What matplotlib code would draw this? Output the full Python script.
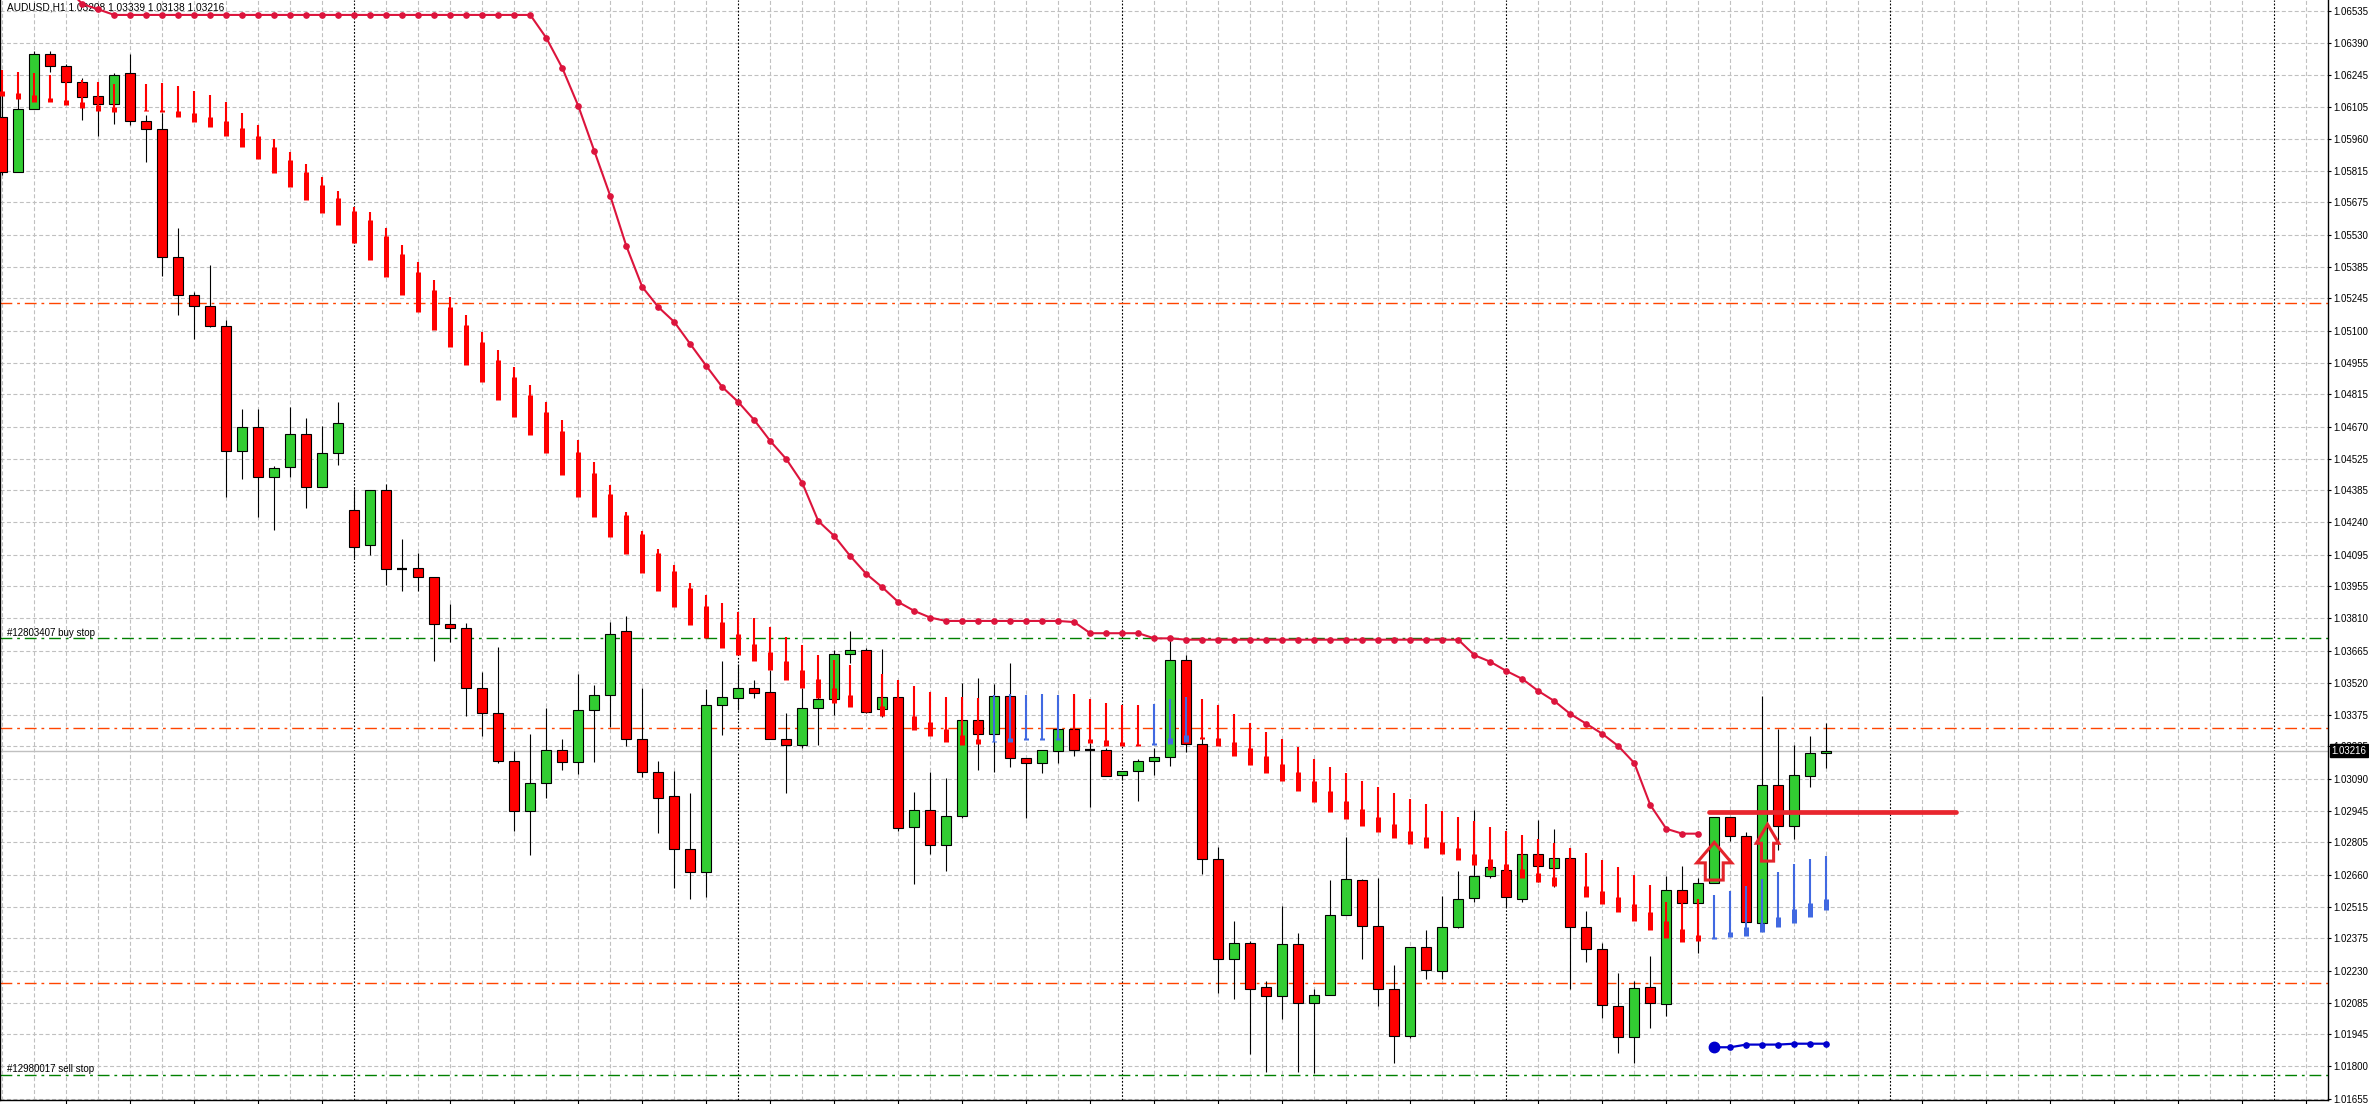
import numpy as np
import matplotlib.pyplot as plt
from matplotlib.patches import Polygon

plt.rcParams['font.family'] = ['Liberation Sans', 'DejaVu Sans']

title = "AUDUSD,H1 1.03208 1.03339 1.03138 1.03216"

# hourly candles (bar 0 = leftmost)
opens = [1.06058, 1.05813, 1.06093, 1.06340, 1.06286, 1.06214, 1.06151, 1.06115, 1.06254, 1.06039,
         1.06003, 1.05429, 1.05259, 1.05209, 1.05122, 1.04559, 1.04667, 1.04442, 1.04487, 1.04635,
         1.04398, 1.04550, 1.04294, 1.04137, 1.04384, 1.04032, 1.04034, 1.03994, 1.03783, 1.03765,
         1.03496, 1.03384, 1.03169, 1.02944, 1.03070, 1.03218, 1.03164, 1.03397, 1.03465, 1.03752,
         1.03267, 1.03119, 1.03012, 1.02774, 1.02671, 1.03420, 1.03451, 1.03496, 1.03478, 1.03267,
         1.03240, 1.03406, 1.03447, 1.03649, 1.03666, 1.03402, 1.03456, 1.02873, 1.02949, 1.02792,
         1.02922, 1.03353, 1.03290, 1.03460, 1.03182, 1.03160, 1.03213, 1.03312, 1.03218, 1.03218,
         1.03106, 1.03124, 1.03169, 1.03187, 1.03622, 1.03245, 1.02729, 1.02281, 1.02352, 1.02155,
         1.02115, 1.02348, 1.02083, 1.02119, 1.02478, 1.02635, 1.02429, 1.02146, 1.01937, 1.02334,
         1.02228, 1.02424, 1.02554, 1.02653, 1.02680, 1.02550, 1.02752, 1.02691, 1.02734, 1.02424,
         1.02325, 1.02070, 1.01931, 1.02155, 1.02079, 1.02590, 1.02532, 1.02621, 1.02917, 1.02832,
         1.02442, 1.03061, 1.02877, 1.03101, 1.03208]
highs = [1.06157, 1.06149, 1.06354, 1.06354, 1.06296, 1.06232, 1.06151, 1.06254, 1.06341, 1.06066,
         1.06078, 1.05559, 1.05272, 1.05393, 1.05148, 1.04749, 1.04749, 1.04493, 1.04759, 1.04708,
         1.04674, 1.04780, 1.04389, 1.04384, 1.04412, 1.04166, 1.04101, 1.03994, 1.03874, 1.03789,
         1.03570, 1.03681, 1.03215, 1.03291, 1.03408, 1.03269, 1.03560, 1.03511, 1.03793, 1.03820,
         1.03499, 1.03170, 1.03125, 1.03026, 1.03492, 1.03618, 1.03605, 1.03533, 1.03578, 1.03384,
         1.03496, 1.03539, 1.03668, 1.03753, 1.03678, 1.03672, 1.03456, 1.03031, 1.03121, 1.03092,
         1.03518, 1.03541, 1.03514, 1.03608, 1.03182, 1.03218, 1.03312, 1.03469, 1.03249, 1.03227,
         1.03124, 1.03178, 1.03227, 1.03717, 1.03645, 1.03272, 1.02786, 1.02452, 1.02363, 1.02185,
         1.02521, 1.02400, 1.02149, 1.02636, 1.02828, 1.02639, 1.02645, 1.02255, 1.02334, 1.02412,
         1.02566, 1.02678, 1.02949, 1.02693, 1.02680, 1.02752, 1.02905, 1.02865, 1.02778, 1.02497,
         1.02352, 1.02219, 1.02182, 1.02295, 1.02654, 1.02698, 1.02644, 1.02917, 1.02917, 1.02850,
         1.03461, 1.03313, 1.03242, 1.03282, 1.03339]
lows = [1.05798, 1.05812, 1.06093, 1.06261, 1.06214, 1.06045, 1.05973, 1.06027, 1.06024, 1.05856,
        1.05345, 1.05170, 1.05063, 1.05118, 1.04355, 1.04436, 1.04266, 1.04206, 1.04445, 1.04306,
        1.04398, 1.04499, 1.04079, 1.04094, 1.03961, 1.03934, 1.03934, 1.03620, 1.03702, 1.03373,
        1.03283, 1.03162, 1.02857, 1.02750, 1.03005, 1.03130, 1.03110, 1.03167, 1.03324, 1.03239,
        1.03100, 1.02848, 1.02599, 1.02552, 1.02559, 1.03288, 1.03399, 1.03451, 1.03267, 1.03025,
        1.03227, 1.03243, 1.03375, 1.03608, 1.03384, 1.03369, 1.02857, 1.02620, 1.02754, 1.02678,
        1.02913, 1.03130, 1.03121, 1.03144, 1.02916, 1.03115, 1.03160, 1.03194, 1.02965, 1.03101,
        1.03083, 1.02992, 1.03105, 1.03149, 1.03212, 1.02663, 1.02131, 1.02101, 1.01856, 1.01776,
        1.02014, 1.01776, 1.01769, 1.02119, 1.02478, 1.02283, 1.02072, 1.01814, 1.01926, 1.02194,
        1.02194, 1.02420, 1.02536, 1.02644, 1.02517, 1.02539, 1.02629, 1.02606, 1.02149, 1.02270,
        1.02019, 1.01859, 1.01817, 1.01974, 1.02028, 1.02532, 1.02310, 1.02621, 1.02810, 1.02446,
        1.02442, 1.02772, 1.02820, 1.03055, 1.03138]
closes = [1.05812, 1.06093, 1.06340, 1.06286, 1.06214, 1.06147, 1.06115, 1.06245, 1.06039, 1.06003,
          1.05429, 1.05259, 1.05209, 1.05122, 1.04559, 1.04667, 1.04442, 1.04483, 1.04635, 1.04398,
          1.04550, 1.04685, 1.04128, 1.04384, 1.04030, 1.04032, 1.03994, 1.03783, 1.03765, 1.03496,
          1.03384, 1.03169, 1.02944, 1.03070, 1.03218, 1.03164, 1.03397, 1.03465, 1.03738, 1.03267,
          1.03119, 1.03003, 1.02774, 1.02671, 1.03420, 1.03456, 1.03496, 1.03474, 1.03267, 1.03240,
          1.03406, 1.03447, 1.03649, 1.03666, 1.03388, 1.03456, 1.02868, 1.02949, 1.02792, 1.02922,
          1.03353, 1.03290, 1.03460, 1.03182, 1.03160, 1.03218, 1.03312, 1.03218, 1.03218, 1.03101,
          1.03124, 1.03169, 1.03187, 1.03622, 1.03245, 1.02729, 1.02281, 1.02352, 1.02146, 1.02115,
          1.02348, 1.02083, 1.02119, 1.02478, 1.02639, 1.02429, 1.02146, 1.01937, 1.02334, 1.02233,
          1.02424, 1.02550, 1.02653, 1.02693, 1.02559, 1.02752, 1.02698, 1.02734, 1.02424, 1.02325,
          1.02074, 1.01931, 1.02151, 1.02083, 1.02590, 1.02532, 1.02621, 1.02917, 1.02832, 1.02446,
          1.03061, 1.02877, 1.03106, 1.03204, 1.03216]

# histogram-style indicator: thin line top, thick part top, bottom
osc_top = [1.06269, 1.06259, 1.06254, 1.06247, 1.06224, 1.06224, 1.06214, 1.06206, 1.06206, 1.06206,
           1.06212, 1.06197, 1.06175, 1.06157, 1.06126, 1.06078, 1.06022, 1.05961, 1.05901, 1.05849,
           1.05791, 1.05728, 1.05656, 1.05632, 1.05560, 1.05484, 1.05408, 1.05327, 1.05251, 1.05170,
           1.05094, 1.05013, 1.04937, 1.04856, 1.04780, 1.04699, 1.04610, 1.04511, 1.04408, 1.04288,
           1.04202, 1.04121, 1.04049, 1.03967, 1.03914, 1.03877, 1.03838, 1.03810, 1.03770, 1.03725,
           1.03689, 1.03644, 1.03623, 1.03599, 1.03578, 1.03559, 1.03533, 1.03506, 1.03478, 1.03457,
           1.03457, 1.03453, 1.03465, 1.03469, 1.03466, 1.03470, 1.03466, 1.03470, 1.03448, 1.03430,
           1.03421, 1.03421, 1.03426, 1.03448, 1.03457, 1.03448, 1.03421, 1.03381, 1.03340, 1.03300,
           1.03269, 1.03233, 1.03179, 1.03143, 1.03116, 1.03080, 1.03053, 1.03026, 1.02999, 1.02977,
           1.02946, 1.02919, 1.02901, 1.02874, 1.02856, 1.02838, 1.02820, 1.02802, 1.02778, 1.02757,
           1.02726, 1.02695, 1.02659, 1.02614, 1.02536, 1.02532, 1.02550, 1.02568, 1.02586, 1.02608,
           1.02639, 1.02671, 1.02707, 1.02729, 1.02743]
osc_mid = [1.06175, 1.06165, 1.06157, 1.06143, 1.06134, 1.06124, 1.06112, 1.06104, 1.06099, 1.06090,
           1.06090, 1.06087, 1.06078, 1.06060, 1.06040, 1.06009, 1.05973, 1.05925, 1.05865, 1.05812,
           1.05753, 1.05695, 1.05638, 1.05596, 1.05525, 1.05444, 1.05363, 1.05282, 1.05206, 1.05125,
           1.05049, 1.04968, 1.04892, 1.04811, 1.04735, 1.04650, 1.04556, 1.04462, 1.04367, 1.04273,
           1.04188, 1.04101, 1.04022, 1.03947, 1.03865, 1.03793, 1.03740, 1.03695, 1.03659, 1.03618,
           1.03578, 1.03538, 1.03497, 1.03465, 1.03444, 1.03417, 1.03394, 1.03372, 1.03345, 1.03313,
           1.03287, 1.03269, 1.03260, 1.03273, 1.03273, 1.03273, 1.03273, 1.03269, 1.03269, 1.03264,
           1.03255, 1.03246, 1.03251, 1.03275, 1.03287, 1.03276, 1.03275, 1.03255, 1.03228, 1.03194,
           1.03158, 1.03121, 1.03080, 1.03035, 1.02991, 1.02955, 1.02919, 1.02887, 1.02856, 1.02829,
           1.02807, 1.02780, 1.02752, 1.02730, 1.02708, 1.02684, 1.02666, 1.02648, 1.02627, 1.02608,
           1.02586, 1.02559, 1.02527, 1.02491, 1.02451, 1.02415, 1.02388, 1.02379, 1.02402, 1.02424,
           1.02442, 1.02469, 1.02505, 1.02532, 1.02550]
osc_bot = [1.06152, 1.06139, 1.06127, 1.06124, 1.06112, 1.06097, 1.06087, 1.06079, 1.06085, 1.06084,
           1.06081, 1.06060, 1.06037, 1.06012, 1.05974, 1.05925, 1.05869, 1.05806, 1.05746, 1.05686,
           1.05629, 1.05573, 1.05495, 1.05417, 1.05341, 1.05260, 1.05184, 1.05103, 1.05027, 1.04946,
           1.04870, 1.04789, 1.04713, 1.04632, 1.04553, 1.04453, 1.04355, 1.04263, 1.04176, 1.04097,
           1.04012, 1.03934, 1.03859, 1.03779, 1.03720, 1.03678, 1.03644, 1.03617, 1.03577, 1.03532,
           1.03496, 1.03451, 1.03429, 1.03411, 1.03390, 1.03372, 1.03340, 1.03309, 1.03282, 1.03254,
           1.03242, 1.03246, 1.03254, 1.03254, 1.03264, 1.03264, 1.03264, 1.03255, 1.03251, 1.03239,
           1.03239, 1.03237, 1.03242, 1.03246, 1.03254, 1.03270, 1.03237, 1.03192, 1.03152, 1.03115,
           1.03079, 1.03034, 1.02985, 1.02940, 1.02910, 1.02877, 1.02850, 1.02823, 1.02796, 1.02778,
           1.02752, 1.02725, 1.02702, 1.02680, 1.02659, 1.02644, 1.02626, 1.02608, 1.02587, 1.02559,
           1.02527, 1.02491, 1.02451, 1.02411, 1.02375, 1.02357, 1.02361, 1.02370, 1.02379, 1.02384,
           1.02402, 1.02424, 1.02442, 1.02469, 1.02500]
osc_side = "r" * 62 + "b" * 5 + "r" * 5 + "b" * 3 + "r" * 32 + "b" * 8

# trailing stop line, starts at bar 4
stop_start = 4
stop_line = [1.06640, 1.06565, 1.06541,
             1.06516, 1.06516, 1.06516, 1.06516, 1.06516, 1.06516, 1.06516, 1.06516, 1.06516,
             1.06516, 1.06516, 1.06516, 1.06516, 1.06516, 1.06516, 1.06516, 1.06516, 1.06516,
             1.06516, 1.06516, 1.06516, 1.06516, 1.06516, 1.06516, 1.06516, 1.06516, 1.06516,
             1.06413, 1.06278, 1.06108, 1.05906, 1.05704, 1.05480, 1.05296, 1.05206, 1.05139,
             1.05040, 1.04942, 1.04847, 1.04780, 1.04699, 1.04605, 1.04524, 1.04417, 1.04246,
             1.04179, 1.04089, 1.04009, 1.03949, 1.03883, 1.03843, 1.03813,
             1.03798, 1.03798, 1.03798, 1.03798, 1.03798, 1.03798, 1.03798, 1.03798, 1.03793,
             1.03743, 1.03743, 1.03743, 1.03743, 1.03720, 1.03720,
             1.03714, 1.03714, 1.03714, 1.03714, 1.03714, 1.03714, 1.03714, 1.03714, 1.03714,
             1.03714, 1.03714, 1.03714, 1.03714, 1.03714, 1.03714, 1.03714, 1.03714, 1.03714,
             1.03645, 1.03615, 1.03574, 1.03538, 1.03484, 1.03439, 1.03381, 1.03337, 1.03292,
             1.03237, 1.03161, 1.02973, 1.02866, 1.02844, 1.02844]

blue_start = 107
blue_line = [1.01886, 1.01886, 1.01898, 1.01898, 1.01898, 1.01902, 1.01902, 1.01902]

price_labels = ["1.06535", "1.06390", "1.06245", "1.06105", "1.05960", "1.05815", "1.05675",
                "1.05530", "1.05385", "1.05245", "1.05100", "1.04955", "1.04815", "1.04670",
                "1.04525", "1.04385", "1.04240", "1.04095", "1.03955", "1.03810", "1.03665",
                "1.03520", "1.03375", "1.03235", "1.03090", "1.02945", "1.02805", "1.02660",
                "1.02515", "1.02375", "1.02230", "1.02085", "1.01945", "1.01800", "1.01655"]

orange_levels = [1.05223, 1.03318, 1.02173]
order_levels = [1.03720, 1.01763]
order_names = ["#12803407 buy stop", "#12980017 sell stop"]
last_price = 1.03216
target_price = 1.02940
target_span = (106.7, 122.1)
arrow_bar = [107, 110.33]
arrow_tip = [1.02805, 1.02886]
day_breaks = [22, 46, 70, 94, 118, 142]

fig = plt.figure(figsize=(23.69, 11.04), dpi=100)
ax = fig.add_axes([0, 4 / 1104, 2328 / 2369, 1100 / 1104])
ax.set_xlim(-0.144, 145.36)
ax.set_ylim(1.016495, 1.06583)

grid_kw = dict(color='#c0c0c0', linewidth=0.8, linestyle=(0, (3.6, 2.2)), zorder=0)
ticks = [float(s) for s in price_labels]
for t in ticks:
    ax.axhline(t, **grid_kw)
for g in range(0, 146, 2):
    if g in day_breaks:
        ax.axvline(g, color='black', linewidth=0.8, linestyle=(0, (1.6, 1.6)), zorder=0.5)
    else:
        ax.axvline(g, **grid_kw)

dashdot = (0, (8.5, 3.5, 2.0, 3.5))
for lv in orange_levels:
    ax.axhline(lv, color='#ff4500', linewidth=1.0, linestyle=dashdot, zorder=1)
for lv, name in zip(order_levels, order_names):
    ax.axhline(lv, color='#008000', linewidth=1.0, linestyle=dashdot, zorder=1)
    ax.text(7 / 2328, lv + 0.00003, name, transform=ax.get_yaxis_transform(),
            fontsize=7, va='bottom', ha='left', color='black')
ax.axhline(last_price, color='#c0c0c0', linewidth=1.0, zorder=1)

# candles
x = np.arange(len(opens))
o = np.array(opens)
c = np.array(closes)
up = c > o
dn = c < o
dj = c == o
ax.vlines(x, lows, highs, color='black', linewidth=0.8, zorder=2)
ax.bar(x[up], (c - o)[up], bottom=o[up], width=0.62, color='#32cd32',
       edgecolor='black', linewidth=0.8, zorder=3)
ax.bar(x[dn], (o - c)[dn], bottom=c[dn], width=0.62, color='#ff0000',
       edgecolor='black', linewidth=0.8, zorder=3)
ax.hlines(o[dj], x[dj] - 0.31, x[dj] + 0.31, color='black', linewidth=1.6, zorder=3)

# indicator bars
cols = ['#ff0000' if s == 'r' else '#4169e1' for s in osc_side]
ax.vlines(x, osc_top, osc_bot, colors=cols, linewidth=1.5, zorder=4)
ax.vlines(x, osc_mid, osc_bot, colors=cols, linewidth=3.6, zorder=4)

# trailing stop
sx = np.arange(stop_start, stop_start + len(stop_line))
ax.plot(sx, stop_line, color='#dc143c', linewidth=1.5, marker='o', markersize=3.8, zorder=5)

bx = np.arange(blue_start, blue_start + len(blue_line))
ax.plot(bx, blue_line, color='#0000cd', linewidth=1.6, marker='o', markersize=3.8, zorder=5)
ax.plot(bx[0], blue_line[0], 'o', color='#0000cd', markersize=7.5, zorder=5)

ax.plot(target_span, [target_price, target_price], color='#e8262e', linewidth=3.4,
        solid_capstyle='round', zorder=6)

# up arrows (head half width, shaft half width, head height, total height)
shapes = [(1.09, 0.56, 0.00092, 0.00169), (0.70, 0.38, 0.00085, 0.00165)]
for bi, tip, (hw, sw, hh, th) in zip(arrow_bar, arrow_tip, shapes):
    pts = [(bi, tip), (bi + hw, tip - hh), (bi + sw, tip - hh), (bi + sw, tip - th),
           (bi - sw, tip - th), (bi - sw, tip - hh), (bi - hw, tip - hh)]
    ax.add_patch(Polygon(pts, closed=True, fill=False, edgecolor='#e4242b',
                         linewidth=2.2, joinstyle='miter', zorder=7))

# axes styling
ax.spines['top'].set_visible(False)
for side in ['left', 'right', 'bottom']:
    ax.spines[side].set_color('black')
    ax.spines[side].set_linewidth(1.0)
ax.yaxis.tick_right()
ax.set_yticks(ticks)
ax.set_yticklabels(price_labels)
ax.tick_params(axis='y', direction='out', length=2.5, width=0.8, pad=1.5, labelsize=7)
ax.set_xticks(range(4, 146, 4))
ax.tick_params(axis='x', direction='out', length=3, width=0.8, labelbottom=False)

ax.text(1.0015, last_price, "1.03216", transform=ax.get_yaxis_transform(), fontsize=7,
        color='white', va='center', ha='left', zorder=10,
        bbox=dict(boxstyle='square,pad=0.15', facecolor='black', edgecolor='black'),
        clip_on=False)

ax.text(7 / 2328, 0.998, title, transform=ax.transAxes, fontsize=7.3, va='top', ha='left')

fig.savefig('out.png', dpi=100)
